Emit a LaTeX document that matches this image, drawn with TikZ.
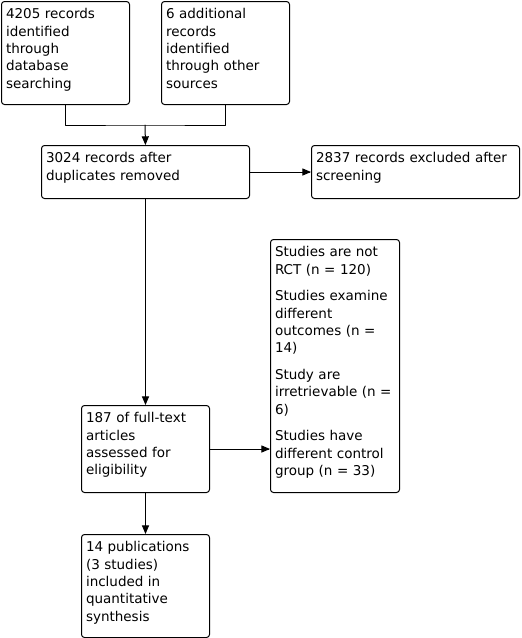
\documentclass[tikz,border=0pt]{standalone}
\usepackage{fontspec}
\setmainfont{DejaVu Sans}
\usepackage{tikz}
\usetikzlibrary{arrows}
\tikzset{
  flow/.style={draw, rectangle, rounded corners=3pt, anchor=north west, align=left,
    inner xsep=4.5pt, inner ysep=3pt, text height=14.3pt,
    font=\fontsize{13.5}{17.3}\selectfont}
}

\begin{document}
\begin{tikzpicture}[line cap=round,line join=round,>=triangle 45,x=1pt,y=-1pt,line width=1pt]
\useasboundingbox (0,0) rectangle (522,638);
\node[flow, text width=119pt, text depth=82.7pt] (ident) at (1,1) {4205 records\\identified\\through\\database\\searching};
\node[flow, text width=119pt, text depth=82.7pt] (other) at (161,1) {6 additional\\records\\identified\\through other\\sources};
\node[flow, text width=199pt, text depth=32.7pt] (dedup) at (41,145) {3024 records after\\duplicates removed};
\node[flow, text width=199pt, text depth=32.7pt] (excl) at (311,145) {2837 records excluded after\\screening};
\node[flow, text width=120pt, text depth=232.7pt] (reasons) at (270,239) {Studies are not\\RCT (n = 120)\\[9.4pt]Studies examine\\different\\outcomes (n =\\14)\\[9.4pt]Study are\\irretrievable (n =\\6)\\[9.4pt]Studies have\\different control\\group (n = 33)};
\node[flow, text width=119pt, text depth=66.7pt] (full) at (81,405) {187 of full-text\\articles\\assessed for\\eligibility};
\node[flow, text width=119pt, text depth=82.7pt] (incl) at (81,534) {14 publications\\(3 studies)\\included in\\quantitative\\synthesis};
\coordinate (join) at (145,125);
\draw (ident.south) |- (join) -| (other.south);
\draw [->] (join) -- (dedup.north);
\draw [->] (dedup.east) -- (excl.west);
\draw [->] (dedup.south) -- (full.north);
\draw [->] (full.east) -- (reasons.west |- full.east);
\draw [->] (full.south) -- (incl.north);
\end{tikzpicture}
\end{document}
